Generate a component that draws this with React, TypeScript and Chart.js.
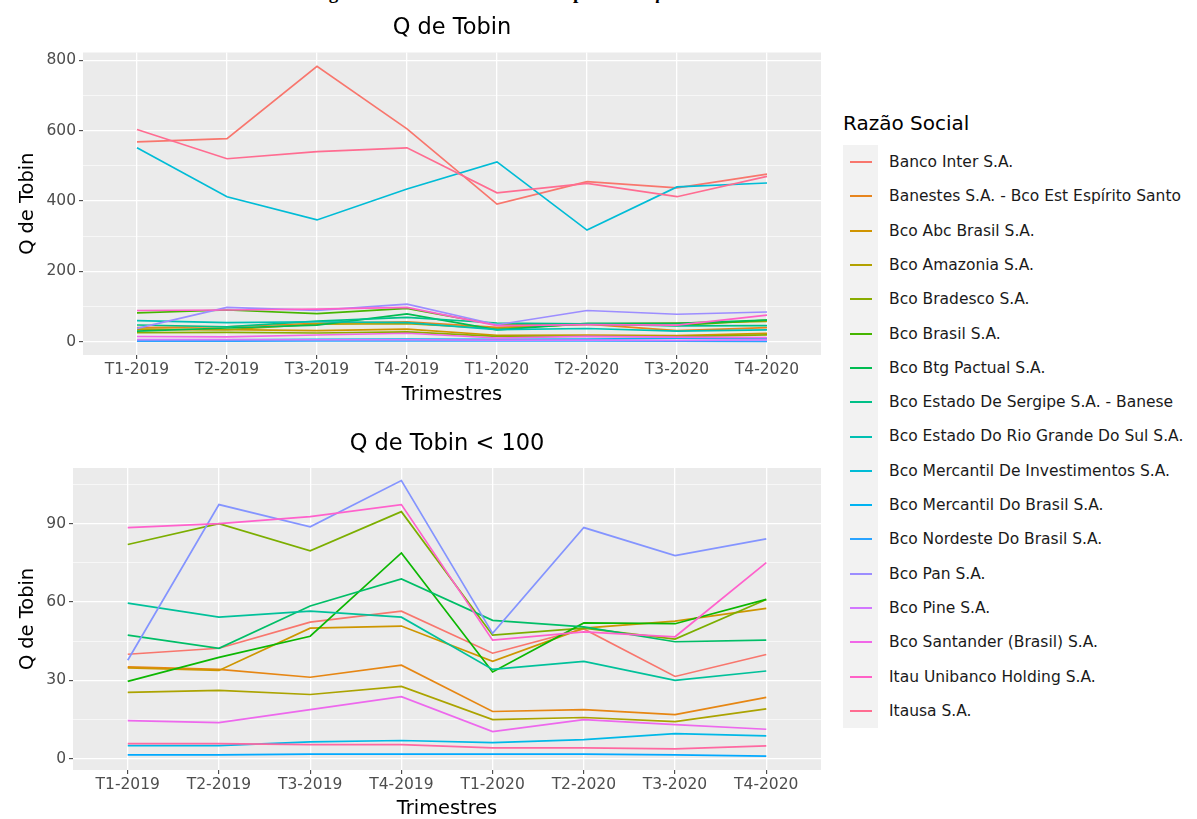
import React, { useEffect, useRef } from "react";
import { Chart, registerables } from "chart.js";

Chart.register(...registerables);

// ---------- data ----------
const quarters = ["T1-2019", "T2-2019", "T3-2019", "T4-2019", "T1-2020", "T2-2020", "T3-2020", "T4-2020"];

const bancoInter = [568, 577, 783, 605, 391, 455, 437, 476];
const banestes = [40, 42.3, 52.3, 56.5, 40.4, 49.7, 31.5, 39.9];
const bcoAbc = [35.2, 34.2, 31.2, 35.8, 18.1, 18.8, 16.9, 23.5];
const bcoAmazonia = [34.8, 33.8, 50, 50.8, 37.3, 50, 52.7, 57.6];
const bcoBradesco = [25.4, 26.2, 24.6, 27.7, 15, 15.8, 14.2, 19.1];
const bcoBrasil = [82, 90, 79.6, 94.6, 47.3, 50, 45.8, 61];
const bcoBtg = [29.6, 38.8, 46.9, 78.8, 33.2, 52, 51.7, 61];
const bcoSergipe = [47.3, 42.3, 58.5, 68.8, 53, 50.5, 44.8, 45.4];
const bcoRioGrande = [59.6, 54.2, 56.5, 54.2, 34.2, 37.3, 30, 33.6];
const bcoMercantilInv = [551, 412, 346, 434, 511, 317, 440, 451];
const bcoMercantilBr = [5, 5, 6.5, 7, 6.2, 7.3, 9.6, 8.8];
const bcoNordeste = [1.5, 1.5, 1.8, 1.8, 1.8, 1.8, 1.5, 1];
const bcoPan = [37.7, 97.3, 88.8, 106.5, 48, 88.5, 77.8, 84.2];
const bcoPine = [5.8, 5.8, 5.4, 5.4, 4.2, 4.2, 3.8, 4.9];
const bcoSantander = [14.6, 13.8, 18.8, 23.8, 10.4, 15, 13.1, 11.3];
const itauUnibanco = [88.5, 90, 92.7, 97.3, 45.4, 48.6, 46.7, 75.1];
const itausa = [603, 520, 540, 551, 423, 450, 412, 470];

const seriesNames = [
  "Banco Inter S.A.",
  "Banestes S.A. - Bco Est Espírito Santo",
  "Bco Abc Brasil S.A.",
  "Bco Amazonia S.A.",
  "Bco Bradesco S.A.",
  "Bco Brasil S.A.",
  "Bco Btg Pactual S.A.",
  "Bco Estado De Sergipe S.A. - Banese",
  "Bco Estado Do Rio Grande Do Sul S.A.",
  "Bco Mercantil De Investimentos S.A.",
  "Bco Mercantil Do Brasil S.A.",
  "Bco Nordeste Do Brasil S.A.",
  "Bco Pan S.A.",
  "Bco Pine S.A.",
  "Bco Santander (Brasil) S.A.",
  "Itau Unibanco Holding S.A.",
  "Itausa S.A.",
];
const seriesValues = [
  bancoInter, banestes, bcoAbc, bcoAmazonia, bcoBradesco, bcoBrasil, bcoBtg, bcoSergipe,
  bcoRioGrande, bcoMercantilInv, bcoMercantilBr, bcoNordeste, bcoPan, bcoPine, bcoSantander,
  itauUnibanco, itausa,
];
const seriesColors = [
  "#F8766D", "#E7851E", "#D09400", "#B2A100", "#89AC00", "#45B500", "#00BC51", "#00C087",
  "#00C0B2", "#00BCD6", "#00B3F2", "#29A3FF", "#9C8DFF", "#D277FF", "#F166E8", "#FF61C7", "#FF6C91",
];

// lower panel ("< 100"): its own series list and colours
const lowerValues = [
  banestes, bcoAbc, bcoAmazonia, bcoBradesco, bcoBrasil, bcoBtg, bcoSergipe, bcoRioGrande,
  bcoMercantilBr, bcoNordeste, bcoPan, bcoSantander, itauUnibanco, bcoPine,
];
const lowerColors = [
  "#F8766D", "#E68613", "#CD9600", "#ABA300", "#7CAE00", "#0CB702", "#00BE67", "#00C19A",
  "#00B8E7", "#00A9FF", "#8494FF", "#ED68ED", "#FF61CC", "#FF68A1",
];

const topYTicks = [0, 100, 200, 300, 400, 500, 600, 700, 800];
const lowYTicks = [0, 15, 30, 45, 60, 75, 90, 105];

// ---------- styling ----------
const FONT = "'DejaVu Sans', 'Liberation Sans', sans-serif";
const TICK_SIZE = 15.5;
const AXIS_TITLE = 19.4;
const PLOT_TITLE = 22.5;

const panelBg = {
  id: "panelBg",
  beforeDraw(chart: any) {
    const { ctx, chartArea: a } = chart;
    ctx.save();
    ctx.fillStyle = "#EBEBEB";
    ctx.fillRect(a.left, a.top, a.right - a.left, a.bottom - a.top);
    ctx.restore();
  },
};

function makeConfig(opts: {
  title: string;
  values: number[][];
  colors: string[];
  yMin: number;
  yMax: number;
  yTicks: number[];
  majorStep: number;
  yWidth: number;
  xHeight: number;
  titlePad: { top: number; bottom: number };
  xTitlePadBottom: number;
}) {
  const datasets = opts.values
    .map((vals, i) => ({
      label: String(i),
      data: vals.map((v, j) => ({ x: j, y: v })),
      borderColor: opts.colors[i],
      backgroundColor: opts.colors[i],
      borderWidth: 1.7,
      pointRadius: 0,
      fill: false,
      tension: 0,
    }))
    .reverse();

  return {
    type: "line" as const,
    data: { datasets },
    plugins: [panelBg],
    options: {
      animation: false,
      responsive: false,
      events: [],
      layout: { padding: { left: 0, right: 9, top: 0, bottom: 0 } },
      plugins: {
        legend: { display: false },
        tooltip: { enabled: false },
        title: {
          display: true,
          text: opts.title,
          fullSize: false,
          color: "#000000",
          font: { family: FONT, size: PLOT_TITLE, weight: "normal" },
          padding: opts.titlePad,
        },
      },
      scales: {
        x: {
          type: "linear",
          min: -0.6,
          max: 7.6,
          afterBuildTicks: (s: any) => {
            s.ticks = quarters.map((_, i) => ({ value: i }));
          },
          afterFit: (s: any) => {
            s.height = opts.xHeight;
          },
          ticks: {
            autoSkip: false,
            maxRotation: 0,
            minRotation: 0,
            padding: 2,
            color: "#4D4D4D",
            font: { family: FONT, size: TICK_SIZE },
            callback: (v: any) => quarters[Math.round(Number(v))] ?? "",
          },
          grid: {
            color: "#FFFFFF",
            lineWidth: 1.3,
            drawTicks: true,
            tickLength: 4,
            tickColor: "#333333",
            tickWidth: 1,
          },
          border: { display: false },
          title: {
            display: true,
            text: "Trimestres",
            color: "#000000",
            font: { family: FONT, size: AXIS_TITLE, lineHeight: 1 },
            padding: { top: 2, bottom: opts.xTitlePadBottom },
          },
        },
        y: {
          type: "linear",
          min: opts.yMin,
          max: opts.yMax,
          afterBuildTicks: (s: any) => {
            s.ticks = opts.yTicks.map((v) => ({ value: v }));
          },
          afterFit: (s: any) => {
            s.width = opts.yWidth;
          },
          ticks: {
            autoSkip: false,
            padding: 3,
            color: "#4D4D4D",
            font: { family: FONT, size: TICK_SIZE },
            callback: (v: any) => (Number(v) % opts.majorStep === 0 ? String(v) : ""),
          },
          grid: {
            color: "#FFFFFF",
            lineWidth: (c: any) => (c.tick && c.tick.value % opts.majorStep === 0 ? 1.3 : 0.6),
            drawTicks: true,
            tickLength: 4,
            tickColor: (c: any) =>
              c.tick && c.tick.value % opts.majorStep === 0 ? "#333333" : "rgba(0,0,0,0)",
            tickWidth: 1,
          },
          border: { display: false },
          title: {
            display: true,
            text: "Q de Tobin",
            color: "#000000",
            font: { family: FONT, size: AXIS_TITLE, lineHeight: 1 },
            padding: { top: 18.5, bottom: 2 },
          },
        },
      },
    },
  };
}

export default function App() {
  const topRef = useRef<HTMLCanvasElement | null>(null);
  const lowRef = useRef<HTMLCanvasElement | null>(null);

  useEffect(() => {
    document.body.style.margin = "0";
    document.body.style.overflow = "hidden";
    const top = new Chart(
      topRef.current as HTMLCanvasElement,
      makeConfig({
        title: "Q de Tobin",
        values: seriesValues,
        colors: seriesColors,
        yMin: -38,
        yMax: 822,
        yTicks: topYTicks,
        majorStep: 200,
        yWidth: 83,
        xHeight: 55,
        titlePad: { top: 15, bottom: 10.5 },
        xTitlePadBottom: 5.5,
      }) as any
    );
    const low = new Chart(
      lowRef.current as HTMLCanvasElement,
      makeConfig({
        title: "Q de Tobin < 100",
        values: lowerValues,
        colors: lowerColors,
        yMin: -4.3,
        yMax: 111.3,
        yTicks: lowYTicks,
        majorStep: 30,
        yWidth: 73,
        xHeight: 49,
        titlePad: { top: 20.5, bottom: 10.5 },
        xTitlePadBottom: 0,
      }) as any
    );
    return () => {
      top.destroy();
      low.destroy();
    };
  }, []);

  const legendTop = 145;
  const step = 34.3;

  return (
    <div style={{ position: "absolute", left: 0, top: 0, width: 1197, height: 819, background: "#FFFFFF", overflow: "hidden" }}>
      <div
        style={{
          position: "absolute",
          left: 0,
          width: 1045,
          top: -18,
          textAlign: "center",
          fontFamily: "'Liberation Serif', serif",
          fontWeight: "bold",
          fontSize: 19,
          whiteSpace: "nowrap",
          color: "#000",
        }}
      >
        Figura 3: Gráfico da variável dependente <i>q de Tobin</i>
      </div>
      <canvas ref={topRef} width={830} height={410} style={{ position: "absolute", left: 0, top: 0 }} />
      <canvas ref={lowRef} width={830} height={409} style={{ position: "absolute", left: 0, top: 410 }} />
      <div
        style={{
          position: "absolute",
          left: 843,
          top: 110,
          fontFamily: FONT,
          fontSize: 20,
          lineHeight: "26px",
          color: "#000",
          whiteSpace: "nowrap",
        }}
      >
        Razão Social
      </div>
      <div
        style={{
          position: "absolute",
          left: 843,
          top: legendTop,
          width: 35,
          height: Math.round(step * seriesNames.length),
          background: "#F2F2F2",
        }}
      />
      {seriesNames.map((name, i) => (
        <React.Fragment key={name}>
          <div
            style={{
              position: "absolute",
              left: 850,
              top: Math.round(legendTop + step * i + step / 2) - 1,
              width: 22,
              height: 2,
              background: seriesColors[i],
            }}
          />
          <div
            style={{
              position: "absolute",
              left: 889,
              top: Math.round(legendTop + step * i),
              height: Math.round(step),
              lineHeight: `${Math.round(step)}px`,
              fontFamily: FONT,
              fontSize: 15.5,
              color: "#1A1A1A",
              whiteSpace: "nowrap",
            }}
          >
            {name}
          </div>
        </React.Fragment>
      ))}
    </div>
  );
}
